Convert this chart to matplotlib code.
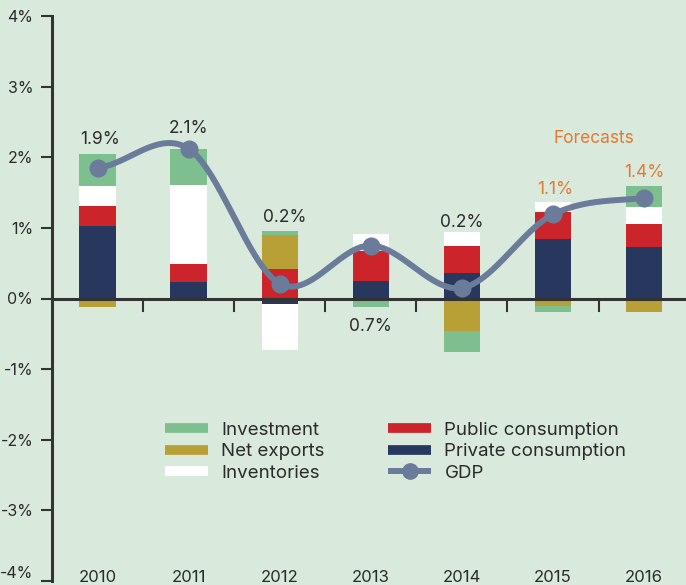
import numpy as np
import matplotlib.pyplot as plt
from matplotlib.lines import Line2D

years = ["2010", "2011", "2012", "2013", "2014", "2015", "2016"]
private_cons = [1.02, 0.23, -0.08, 0.25, 0.36, 0.84, 0.73]
public_cons = [0.29, 0.26, 0.42, 0.42, 0.38, 0.38, 0.32]
net_exports = [-0.12, 0.0, 0.475, 0.0, -0.46, -0.11, -0.19]
inventories = [0.28, 1.12, -0.65, 0.24, 0.20, 0.15, 0.24]
investment = [0.45, 0.50, 0.055, -0.12, -0.30, -0.08, 0.31]
gdp = [1.85, 2.12, 0.21, 0.75, 0.15, 1.19, 1.42]

gdp_labels = ["1.9%", "2.1%", "0.2%", "0.7%", "0.2%", "1.1%", "1.4%"]
label_y = [2.25, 2.41, 1.14, -0.39, 1.07, 1.55, 1.78]
label_x_shift = [0.03, 0.0, 0.05, 0.0, 0.0, 0.02, 0.0]
forecast_from = 5

BG = "#d9eadc"
DARK = "#2b2b2b"
ORANGE = "#e07a35"
colors = {
    "Private consumption": "#27375d",
    "Public consumption": "#cc242b",
    "Net exports": "#b89f36",
    "Inventories": "#ffffff",
    "Investment": "#7dbf8e",
}
GDP_COL = "#6b7c9b"

plt.rcParams["font.family"] = ["Inter", "DejaVu Sans"]


def catmull_rom(x, y, n=60):
    # smooth curve through the gdp points (drawing only)
    x = np.asarray(x, float)
    y = np.asarray(y, float)
    k = len(y)
    m = np.zeros(k)
    m[0] = (y[1] - y[0]) / 2
    m[-1] = (y[-1] - y[-2]) / 2
    m[1:-1] = (y[2:] - y[:-2]) / 2
    xs_all, ys_all = [], []
    t = np.linspace(0, 1, n)
    h00 = 2 * t**3 - 3 * t**2 + 1
    h10 = t**3 - 2 * t**2 + t
    h01 = -2 * t**3 + 3 * t**2
    h11 = t**3 - t**2
    for i in range(k - 1):
        xs_all.append(x[i] + t * (x[i + 1] - x[i]))
        ys_all.append(h00 * y[i] + h10 * m[i] + h01 * y[i + 1] + h11 * m[i + 1])
    return np.concatenate(xs_all), np.concatenate(ys_all)


fig = plt.figure(figsize=(6.86, 5.85), dpi=100)
fig.patch.set_facecolor(BG)
ax = fig.add_axes([52 / 686, 4 / 585, 634 / 686, 565 / 585])
ax.set_facecolor(BG)

x = np.arange(len(years))
width = 0.4
series = [
    ("Private consumption", private_cons),
    ("Public consumption", public_cons),
    ("Net exports", net_exports),
    ("Inventories", inventories),
    ("Investment", investment),
]
pos_base = np.zeros(len(years))
neg_base = np.zeros(len(years))
for name, vals in series:
    vals = np.array(vals)
    base = np.where(vals >= 0, pos_base, neg_base)
    ax.bar(x, vals, width, bottom=base, color=colors[name], linewidth=0, zorder=2)
    pos_base += np.where(vals >= 0, vals, 0)
    neg_base += np.where(vals < 0, vals, 0)

xs, ys = catmull_rom(x, gdp)
ax.plot(xs, ys, color=GDP_COL, lw=4.3, zorder=4, solid_capstyle="round")
ax.plot(x, gdp, "o", color=GDP_COL, ms=12, zorder=5)

# zero line and hanging ticks
ax.axhline(0, color="#333333", lw=2.2, zorder=3)
for xt in x[:-1] + 0.5:
    ax.plot([xt, xt], [0, -0.17], color="#333333", lw=1.5, zorder=3)

for i, lab in enumerate(gdp_labels):
    col = ORANGE if i >= forecast_from else DARK
    ax.text(i + label_x_shift[i], label_y[i], lab, ha="center", va="center",
            fontsize=12.5, color=col)
ax.text(5.45, 2.26, "Forecasts", ha="center", va="center", fontsize=12.5,
        color=ORANGE)

for i, yr in enumerate(years):
    ax.text(i, -3.95, yr, ha="center", va="center", fontsize=12, color=DARK)

ax.set_xlim(-0.5, 6.46)
ax.set_ylim(-4, 4)
ax.set_yticks(np.arange(-4, 5))
ax.set_yticklabels([f"{v}%" for v in range(-4, 5)], fontsize=11.5, color=DARK)
ax.get_yticklabels()[0].set_va("bottom")
ax.tick_params(axis="y", length=8, width=1.5, color="#333333", pad=5.5)
ax.set_xticks([])
for s in ["top", "right", "bottom"]:
    ax.spines[s].set_visible(False)
ax.spines["left"].set_linewidth(2.2)
ax.spines["left"].set_color("#333333")

handles = [
    Line2D([], [], color=colors["Investment"], lw=7, solid_capstyle="butt"),
    Line2D([], [], color=colors["Net exports"], lw=7, solid_capstyle="butt"),
    Line2D([], [], color=colors["Inventories"], lw=7, solid_capstyle="butt"),
    Line2D([], [], color=colors["Public consumption"], lw=7, solid_capstyle="butt"),
    Line2D([], [], color=colors["Private consumption"], lw=7, solid_capstyle="butt"),
    Line2D([], [], color=GDP_COL, lw=4.3, marker="o", ms=11, solid_capstyle="butt"),
]
labels = ["Investment", "Net exports", "Inventories",
          "Public consumption", "Private consumption", "GDP"]
fig.legend(handles, labels, ncol=2, frameon=False, loc="upper left",
           bbox_to_anchor=(148 / 686, 1 - 405 / 585), fontsize=13.5,
           labelcolor=DARK, handlelength=2.3, handletextpad=0.7,
           labelspacing=0.22, columnspacing=3.4)

fig.savefig("out.png", dpi=100, facecolor=BG)
